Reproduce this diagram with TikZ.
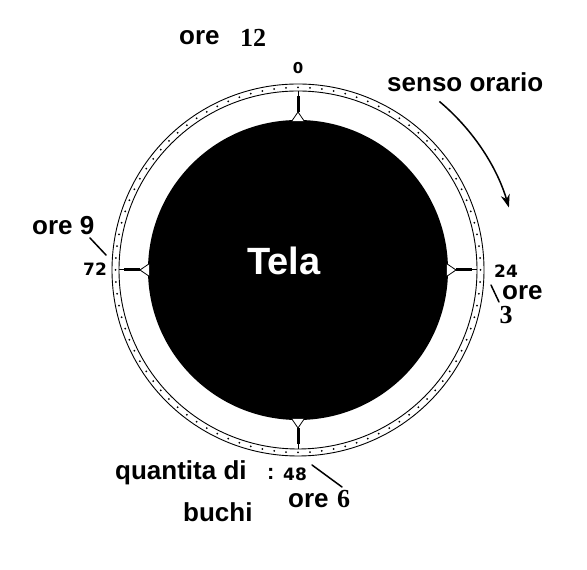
\documentclass[tikz,border=0pt]{standalone}
\usepackage{fontspec}
\setmainfont{Liberation Sans}
\newfontfamily\serifnum{Liberation Serif}
\newfontfamily\heavynum{DejaVu Sans}
\usetikzlibrary{arrows.meta}
\tikzset{
  lbl/.style={inner sep=0pt, anchor=base west, font=\fontsize{26}{30}\selectfont\bfseries},
  num/.style={inner sep=0pt, font=\fontsize{17}{20}\selectfont\heavynum\bfseries},
  hour/.style={inner sep=0pt, anchor=base west, font=\fontsize{26}{28}\selectfont\serifnum\bfseries},
  leader/.style={line width=1.5pt, line cap=round},
  ringline/.style={line width=0.9pt},
}
\begin{document}
\begin{tikzpicture}[x=1pt,y=1pt]
\useasboundingbox (0,0) rectangle (587,570);
\fill[white] (0,0) rectangle (587,570);
\coordinate (C) at (298,300);
\begin{scope}[shift={(298,300)}]
  % canvas (black disc)
  \fill[black] (0,0) circle[radius=150pt];
  % ring
  \draw[ringline] (0,0) circle[radius=186pt];
  \draw[ringline] (0,0) circle[radius=179pt];
  \foreach \i in {0,...,95} \fill ({\i*3.75}:182.5pt) circle[radius=1pt];
  % markers
  \foreach \a in {90,0,-90,180} {
    \draw[line width=1pt] (\a:157pt) -- (\a:179pt);
    \draw[line width=3pt] (\a:158pt) -- (\a:174pt);
    \draw[line width=0.8pt, fill=white, line join=round] ({\a+2.4}:149pt) -- (\a:158pt) -- ({\a-2.4}:149pt);
  }
  % clockwise arrow
  \draw[line width=1.5pt, -{Stealth[length=13pt,width=9pt]}] (50:220pt) arc[start angle=50, end angle=16.5, radius=220pt];
\end{scope}

% centre label
\node[lbl, text=white, font=\fontsize{38}{44}\selectfont\bfseries] (tela) at (247,295) {Tela};

% 12 o'clock
\node[lbl] (ore12) at (179,525) {ore};
\node[hour] (h12) at (240,523) {12};
\node[num, font=\fontsize{15}{17}\selectfont\heavynum\bfseries] (n0) at (298,502) {0};

% direction
\node[lbl] (senso) at (387,478) {senso orario};

% 9 o'clock
\node[lbl] (ore9) at (32,335) {ore 9};
\node[num] (n72) at (95,301) {72};
\coordinate (l9a) at (90,332);
\coordinate (l9b) at (106,315);
\draw[leader] (l9a) -- (l9b);

% 3 o'clock
\node[num] (n24) at (506,299) {24};
\node[lbl] (ore3) at (502,270) {ore};
\node[hour, anchor=center] (h3) at (506,255) {3};
\coordinate (l3a) at (491,285);
\coordinate (l3b) at (499,268);
\draw[leader] (l3a) -- (l3b);

% 6 o'clock
\node[lbl] (quant) at (115,90) {quantita di};
\node[lbl, font=\fontsize{22}{26}\selectfont\bfseries] (colon) at (267,90) {:};
\node[num] (n48) at (295,96) {48};
\node[lbl] (buchi) at (183,48) {buchi};
\node[lbl] (ore6) at (288,62) {ore};
\node[hour] (h6) at (337,62) {6};
\coordinate (l6a) at (312,105);
\coordinate (l6b) at (342,83);
\draw[leader] (l6a) -- (l6b);
\end{tikzpicture}
\end{document}
